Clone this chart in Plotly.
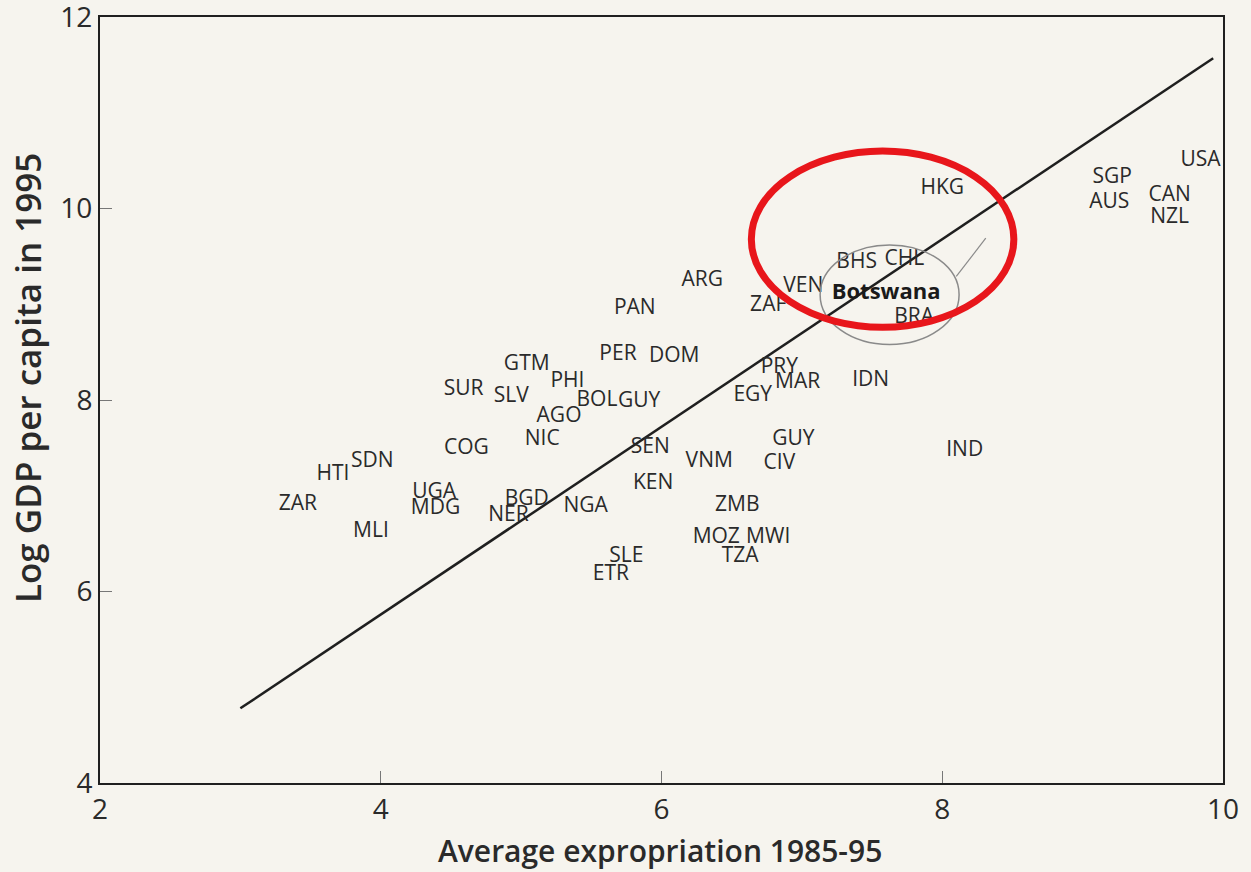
import plotly.graph_objects as go

# ---- data ----
countries = ["USA", "SGP", "AUS", "CAN", "NZL", "HKG", "BHS", "CHL", "BRA", "VEN",
             "ZAF", "ARG", "PAN", "PER", "DOM", "GTM", "PHI", "SUR", "SLV", "BOL",
             "GUY", "AGO", "NIC", "COG", "SDN", "HTI", "ZAR", "MLI", "UGA", "MDG",
             "BGD", "NER", "NGA", "SEN", "KEN", "VNM", "GUY", "CIV", "ZMB", "MOZ",
             "MWI", "TZA", "SLE", "ETR", "EGY", "PRY", "MAR", "IDN", "IND"]
expropriation = [9.84, 9.21, 9.19, 9.62, 9.62, 8.00, 7.39, 7.73, 7.80, 7.01,
                 6.76, 6.29, 5.81, 5.69, 6.09, 5.04, 5.33, 4.59, 4.93, 5.54,
                 5.84, 5.27, 5.15, 4.61, 3.94, 3.66, 3.41, 3.93, 4.38, 4.39,
                 5.04, 4.91, 5.46, 5.92, 5.94, 6.34, 6.94, 6.84, 6.54, 6.39,
                 6.76, 6.56, 5.75, 5.64, 6.65, 6.84, 6.97, 7.49, 8.16]
log_gdp = [10.50, 10.32, 10.06, 10.13, 9.90, 10.21, 9.43, 9.46, 8.86, 9.18,
           8.98, 9.25, 8.95, 8.47, 8.45, 8.37, 8.19, 8.11, 8.03, 7.99,
           7.98, 7.83, 7.59, 7.49, 7.35, 7.22, 6.91, 6.62, 7.03, 6.86,
           6.96, 6.79, 6.89, 7.50, 7.13, 7.35, 7.58, 7.33, 6.90, 6.56,
           6.56, 6.36, 6.36, 6.18, 8.04, 8.34, 8.18, 8.20, 7.47]

highlight_name = ["Botswana"]
highlight_x = [7.60]
highlight_y = [9.11]

fit_x = [3.0, 9.93]
fit_y = [4.78, 11.57]

x_ticks = [2, 4, 6, 8, 10]
y_ticks = [4, 6, 8, 10, 12]

x_title = "Average expropriation 1985-95"
y_title = "Log GDP per capita in 1995"

paper = "#f6f4ee"
ink = "#2a2a2a"
font_family = "Open Sans, Lato, DejaVu Sans, sans-serif"

fig = go.Figure()

fig.add_trace(go.Scatter(
    x=fit_x, y=fit_y, mode="lines",
    line=dict(color="#1f1f1f", width=2.5), hoverinfo="skip", showlegend=False))

fig.add_trace(go.Scatter(
    x=expropriation, y=log_gdp, mode="text", text=countries,
    textposition="middle center",
    textfont=dict(family=font_family, size=21, color=ink),
    showlegend=False))

fig.add_trace(go.Scatter(
    x=highlight_x, y=highlight_y, mode="text", text=highlight_name,
    textposition="middle center",
    textfont=dict(family=font_family, size=22, color="#1a1a1a", weight=700),
    showlegend=False))

# hand-drawn grey loop around Botswana and its leader line
fig.add_shape(type="circle", xref="x", yref="y", x0=7.13, x1=8.12, y0=8.58, y1=9.62,
              line=dict(color="#8a8a8a", width=1.5))
fig.add_shape(type="line", xref="x", yref="y", x0=8.10, x1=8.31, y0=9.29, y1=9.69,
              line=dict(color="#8a8a8a", width=1.2))
# red highlight ellipse
fig.add_shape(type="circle", xref="x", yref="y", x0=6.64, x1=8.51, y0=8.76, y1=10.60,
              line=dict(color="#e8161b", width=7))

axis_common = dict(
    showgrid=False, zeroline=False, showline=True, mirror=True,
    linecolor="#1f1f1f", linewidth=2,
    ticks="inside", ticklen=12, tickwidth=1, tickcolor="#777777",
    tickfont=dict(family=font_family, size=28, color=ink),
    ticklabeloverflow="allow", automargin=False,
)

fig.update_xaxes(range=[2, 10], tickvals=x_ticks, **axis_common)
fig.update_yaxes(range=[4, 12], tickvals=y_ticks, **axis_common)

# axis titles placed as annotations to match the reference positions
fig.add_annotation(text=x_title, xref="paper", yref="paper", x=0.4985, y=-0.0885,
                   xanchor="center", yanchor="middle", showarrow=False,
                   font=dict(family=font_family, size=30, color=ink, weight=600))
fig.add_annotation(text=y_title, xref="paper", yref="paper", x=-0.0650, y=0.5287,
                   xanchor="center", yanchor="middle", showarrow=False, textangle=-90,
                   font=dict(family=font_family, size=35, color=ink, weight=600))

fig.update_layout(
    width=1251, height=872,
    margin=dict(l=100, r=28, t=17, b=89, autoexpand=False),
    paper_bgcolor=paper, plot_bgcolor=paper,
    showlegend=False,
)

fig.write_html(
    "out.html",
    config={"displayModeBar": False},
    post_script="document.body.style.margin='0';"
                "document.body.style.overflow='hidden';"
                "document.body.style.background='#f6f4ee';")
